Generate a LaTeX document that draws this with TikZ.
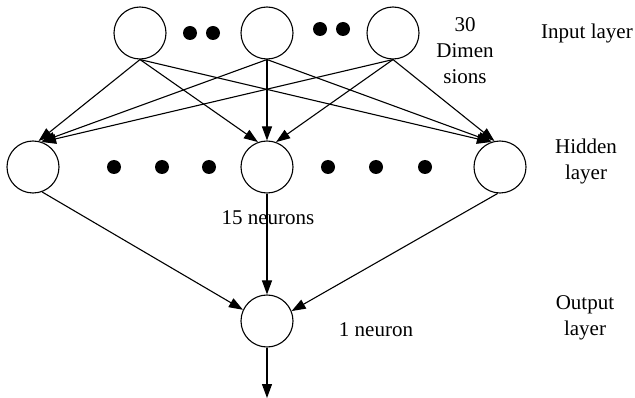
\documentclass[tikz,border=0pt]{standalone}
\usepackage{fontspec}
\setmainfont{Liberation Serif}
\usetikzlibrary{arrows.meta}
\begin{document}
\begin{tikzpicture}[x=1pt,y=-1pt,
  neuron/.style={circle,draw,line width=1.1pt,minimum size=52pt,inner sep=0pt},
  blob/.style={circle,fill=black,minimum size=14pt,inner sep=0pt},
  conn/.style={line width=1.1pt,-{Triangle[length=14pt,width=10pt]}},
  lbl/.style={align=center,inner sep=0pt,font=\fontsize{21}{26}\selectfont}]
\useasboundingbox (0,0) rectangle (635,398);

% input layer
\node[neuron] (i1) at (140,33) {};
\node[neuron] (i2) at (267,33) {};
\node[neuron] (i3) at (393,33) {};
\node[blob] (d1) at (190,33) {};
\node[blob] (d2) at (213,33) {};
\node[blob] (d3) at (320,29) {};
\node[blob] (d4) at (343,29) {};

% hidden layer
\node[neuron] (h1) at (33,167) {};
\node[neuron] (h2) at (267,167) {};
\node[neuron] (h3) at (500,167) {};
\node[blob] (e1) at (114,167) {};
\node[blob] (e2) at (162,167) {};
\node[blob] (e3) at (209,167) {};
\node[blob] (e4) at (328,167) {};
\node[blob] (e5) at (376,167) {};
\node[blob] (e6) at (425,167) {};

% output layer
\node[neuron] (o) at (267,321) {};
\coordinate (out) at (267,398);

% input -> hidden
\draw[conn] (i1.south) -- (h1.78);
\draw[conn] (i2.south) -- (h1.72);
\draw[conn] (i3.south) -- (h1.70);
\draw[conn] (i1.south) -- (h2.110);
\draw[conn] (i2.south) -- (h2.north);
\draw[conn] (i3.south) -- (h2.70);
\draw[conn] (i1.south) -- (h3.110);
\draw[conn] (i2.south) -- (h3.108);
\draw[conn] (i3.south) -- (h3.102);

% hidden -> output
\draw[conn] (h1.-70) -- (o.155);
\draw[conn] (h2.south) -- (o.north);
\draw[conn] (h3.-95) -- (o.22);
\draw[conn] (o.south) -- (out);

% labels
\node[lbl] (dim) at (465,51) {30\\Dimen\\sions};
\node[lbl] (inl) at (587,33) {Input layer};
\node[lbl] (hidl) at (586,161) {Hidden\\layer};
\node[lbl] (outl) at (585,318) {Output\\layer};
\node[lbl] (n15) at (268,218) {15 neurons};
\node[lbl] (n1) at (376,330) {1 neuron};
\end{tikzpicture}
\end{document}
